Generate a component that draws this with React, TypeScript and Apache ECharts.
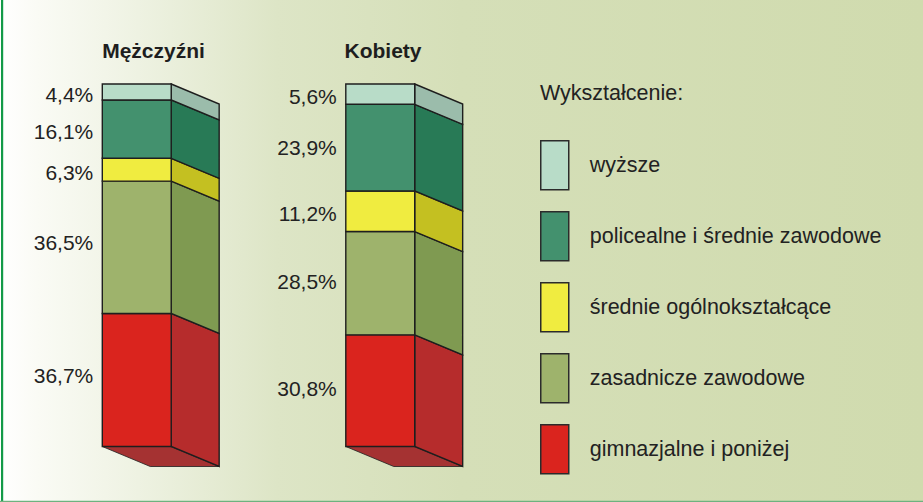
import React, { useEffect, useRef } from "react";
import * as echarts from "echarts";

const categories = ["Mężczyźni", "Kobiety"];
// stacked from the bottom up
const levels = [
  "gimnazjalne i poniżej",
  "zasadnicze zawodowe",
  "średnie ogólnokształcące",
  "policealne i średnie zawodowe",
  "wyższe",
];
const menValues = [36.7, 36.5, 6.3, 16.1, 4.4];
const womenValues = [30.8, 28.5, 11.2, 23.9, 5.6];
const legendTitle = "Wykształcenie:";

const frontColors = ["#da241e", "#9eb36c", "#f0ec40", "#43916e", "#b8dcc8"];
const sideColors = ["#b62c2c", "#7f9a51", "#c4c021", "#287a56", "#9bbcab"];
const bottomColor = "#a53232";
const FONT = '"Liberation Sans", Arial, Helvetica, sans-serif';

function fmt(v: number) {
  return v.toFixed(1).replace(".", ",") + "%";
}

export default function App() {
  const ref = useRef<HTMLDivElement>(null);
  useEffect(() => {
    if (!ref.current) return;
    const chart = echarts.init(ref.current, undefined, { renderer: "svg" });
    const valuesByCat = [menValues, womenValues];

    const series = levels.map((name, li) => {
      const data = valuesByCat.map((vals, ci) => {
        let start = 0;
        for (let k = 0; k < li; k++) start += vals[k];
        return [ci, start, start + vals[li], vals[li]];
      });
      return {
        type: "custom",
        name,
        itemStyle: { color: frontColors[li] },
        data,
        renderItem: (params: any, api: any) => {
          const cat = api.value(0);
          const start = api.value(1);
          const end = api.value(2);
          const val = api.value(3);
          const pTop = api.coord([cat, end]);
          const pBot = api.coord([cat, start]);
          const band = api.size([1, 0])[0];
          const fw = band * 0.283;
          const dx = band * 0.197;
          const dy = 20;
          const xL = pTop[0] - fw / 2;
          const xR = xL + fw;
          const yT = pTop[1];
          const yB = pBot[1];
          const h = yB - yT;
          const stroke = "#1e1e1e";
          const lw = 1.4;
          const children: any[] = [];
          if (li === 0) {
            children.push({
              type: "polygon",
              shape: {
                points: [
                  [xL, yB],
                  [xR, yB],
                  [xR + dx, yB + dy],
                  [xL + dx, yB + dy],
                ],
              },
              style: { fill: bottomColor, stroke, lineWidth: 0.8 },
            });
          }
          children.push({
            type: "polygon",
            shape: {
              points: [
                [xR, yT],
                [xR + dx, yT + dy],
                [xR + dx, yB + dy],
                [xR, yB],
              ],
            },
            style: { fill: sideColors[li], stroke, lineWidth: lw },
          });
          children.push({
            type: "rect",
            shape: { x: xL, y: yT, width: fw, height: h },
            style: { fill: frontColors[li], stroke, lineWidth: lw },
          });
          children.push({
            type: "text",
            x: xL - 9,
            y: yT + h / 2 + 2.5 - Math.max(0, h - 60) * 0.1,
            style: {
              text: fmt(val),
              align: "right",
              verticalAlign: "middle",
              fontSize: 21,
              fontFamily: FONT,
              fill: "#222",
            },
          });
          return { type: "group", children };
        },
      };
    });

    chart.setOption({
      animation: false,
      backgroundColor: new echarts.graphic.LinearGradient(0, 0, 1, 0, [
        { offset: 0, color: "#ffffff" },
        { offset: 0.04, color: "#fafbf5" },
        { offset: 0.15, color: "#eef2e2" },
        { offset: 0.3, color: "#dde5c6" },
        { offset: 0.5, color: "#d5dfb8" },
        { offset: 1, color: "#d0dbae" },
      ]),
      grid: { left: 15, width: 487, top: 84, height: 362.5 },
      xAxis: {
        type: "category",
        data: categories,
        show: false,
      },
      yAxis: { type: "value", min: 0, max: 100, show: false },
      legend: {
        orient: "vertical",
        left: 540,
        top: 140,
        padding: 0,
        itemWidth: 28,
        itemHeight: 49,
        itemGap: 20.5,
        icon: "rect",
        selectedMode: false,
        data: [...levels].reverse(),
        itemStyle: { borderColor: "#2b2b2b", borderWidth: 1.5 },
        textStyle: {
          fontSize: 21.5,
          color: "#222",
          fontFamily: FONT,
          padding: [0, 0, 10, 16],
        },
      },
      graphic: [
        {
          type: "rect",
          shape: { x: 1, y: 0, width: 2.2, height: 502 },
          style: { fill: "#139a48" },
          silent: true,
        },
        {
          type: "rect",
          shape: { x: 0, y: 500.8, width: 923, height: 1.2 },
          style: { fill: "#6db27f" },
          silent: true,
        },
        {
          type: "text",
          x: 153.5,
          y: 50,
          style: {
            text: categories[0],
            align: "center",
            verticalAlign: "middle",
            fontSize: 21,
            fontWeight: "bold",
            fontFamily: FONT,
            fill: "#1e1e1e",
          },
        },
        {
          type: "text",
          x: 383,
          y: 50,
          style: {
            text: categories[1],
            align: "center",
            verticalAlign: "middle",
            fontSize: 21,
            fontWeight: "bold",
            fontFamily: FONT,
            fill: "#1e1e1e",
          },
        },
        {
          type: "text",
          x: 540,
          y: 93,
          style: {
            text: legendTitle,
            align: "left",
            verticalAlign: "middle",
            fontSize: 21.5,
            fontFamily: FONT,
            fill: "#222",
          },
        },
      ],
      series,
    } as any);
    return () => chart.dispose();
  }, []);
  return (
    <div
      ref={ref}
      style={{ position: "fixed", left: 0, top: 0, width: 923, height: 502 }}
    />
  );
}
